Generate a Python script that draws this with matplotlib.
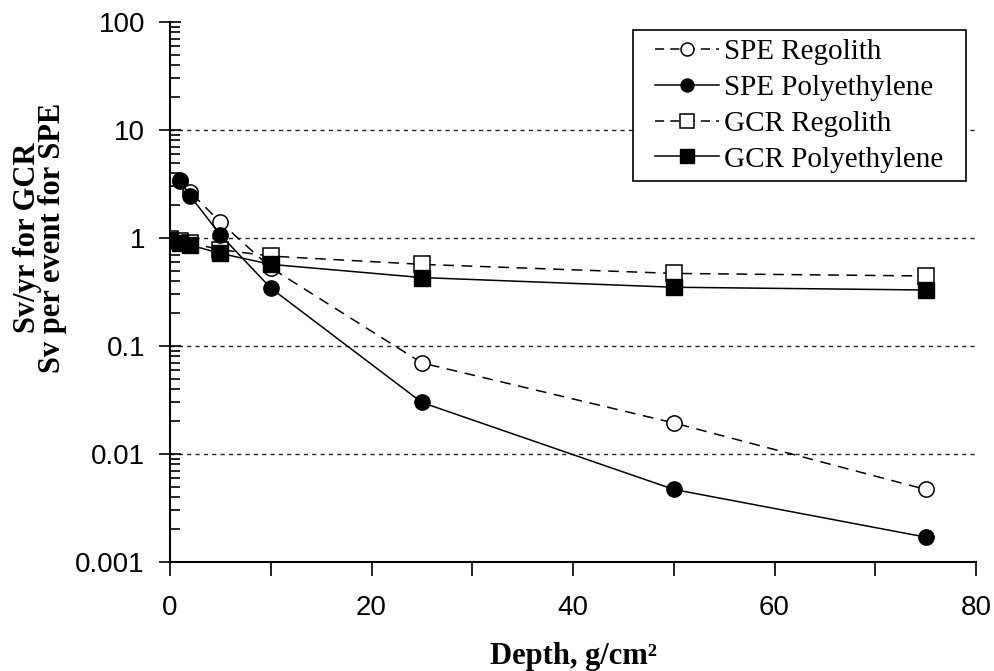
import matplotlib
matplotlib.use("Agg")
import matplotlib.pyplot as plt
from matplotlib.patches import Rectangle
from matplotlib.ticker import FixedLocator, LogLocator, NullFormatter, FixedFormatter

depth_spe_reg = [1, 2, 5, 10, 25, 50, 75]
spe_regolith = [3.4, 2.67, 1.4, 0.53, 0.0697, 0.0194, 0.0047]
depth_spe_poly = [1, 2, 5, 10, 25, 50, 75]
spe_poly = [3.44, 2.45, 1.07, 0.344, 0.030, 0.0047, 0.0017]
depth_gcr = [0, 1, 2, 5, 10, 25, 50, 75]
gcr_regolith = [0.97, 0.93, 0.9, 0.78, 0.68, 0.57, 0.47, 0.445]
gcr_poly = [0.96, 0.9, 0.86, 0.72, 0.57, 0.43, 0.35, 0.33]

ytick_vals = [0.001, 0.01, 0.1, 1, 10, 100]
ytick_labels = ["0.001", "0.01", "0.1", "1", "10", "100"]
xtick_vals = [0, 20, 40, 60, 80]

fig = plt.figure(figsize=(9.94, 6.71), dpi=100)
ax = fig.add_axes([170/994, 1-562/671, (976-170)/994, (562-22)/671])

ax.set_yscale("log")
ax.set_xlim(0, 80)
ax.set_ylim(0.001, 100)

for y in [0.01, 0.1, 1, 10]:
    ax.axhline(y, color="#222222", lw=1.0, ls=(0, (3, 3)), zorder=0)

ms = 11
ax.plot(depth_spe_reg, spe_regolith, ls=(0, (7, 5)), color="black", lw=1.1,
        marker="o", mfc="white", mec="black", ms=ms, mew=1.1, label="SPE Regolith", zorder=3)
ax.plot(depth_spe_poly, spe_poly, ls="-", color="black", lw=1.1,
        marker="o", mfc="black", mec="black", ms=ms, label="SPE Polyethylene", zorder=4)
ax.plot(depth_gcr, gcr_regolith, ls=(0, (7, 5)), color="black", lw=1.1,
        marker="s", mfc="white", mec="black", ms=12, mew=1.1, label="GCR Regolith", zorder=3)
ax.plot(depth_gcr, gcr_poly, ls="-", color="black", lw=1.1,
        marker="s", mfc="black", mec="black", ms=12, label="GCR Polyethylene", zorder=4)

for s in ["top", "right"]:
    ax.spines[s].set_visible(False)
for s in ["left", "bottom"]:
    ax.spines[s].set_linewidth(1.5)

ax.yaxis.set_major_locator(FixedLocator(ytick_vals))
ax.yaxis.set_major_formatter(FixedFormatter(ytick_labels))
ax.yaxis.set_minor_locator(LogLocator(base=10, subs=range(2, 10)))
ax.yaxis.set_minor_formatter(NullFormatter())
ax.xaxis.set_major_locator(FixedLocator(xtick_vals))
ax.xaxis.set_minor_locator(FixedLocator([10, 30, 50, 70]))

ax.tick_params(axis="y", which="major", direction="inout", length=16, width=1.2, labelsize=20, pad=10)
ax.tick_params(axis="y", which="minor", direction="in", length=7, width=1.2)
ax.tick_params(axis="x", which="both", direction="out", length=10, width=1.2, labelsize=20, pad=14)
for lab in ax.get_xticklabels() + ax.get_yticklabels():
    lab.set_fontfamily("Liberation Sans")

ax.set_xlabel("Depth, g/cm²", fontfamily="Liberation Serif", fontweight="bold", fontsize=22, labelpad=15)
fig.text(40/994, 1-238/671, "Sv/yr for GCR\nSv per event for SPE", fontfamily="Liberation Serif",
         fontweight="bold", fontsize=22, rotation=90, ha="center", va="center", linespacing=0.85)

leg = ax.legend(loc="upper right", bbox_to_anchor=(0.97, 0.985), prop={"family": "Liberation Serif", "size": 21},
                frameon=False, handlelength=2.2, borderpad=0.3, labelspacing=0.32,
                handletextpad=0.15, markerscale=0.85, borderaxespad=0)
leg.set_zorder(6)
for ln, style in zip(leg.get_lines(), ["dashed", "solid", "dashed", "solid"]):
    if style == "dashed":
        ln.set_linestyle((0, (6, 4)))

fig.canvas.draw()
bb = leg.get_window_extent().transformed(fig.transFigure.inverted())
padx = 14/994
ax.add_patch(Rectangle((bb.x0 - padx, bb.y0), bb.width + 2*padx, bb.height,
                       transform=fig.transFigure, facecolor="white", edgecolor="black",
                       lw=1.2, zorder=5, clip_on=False))

fig.savefig("out.png", dpi=100)
